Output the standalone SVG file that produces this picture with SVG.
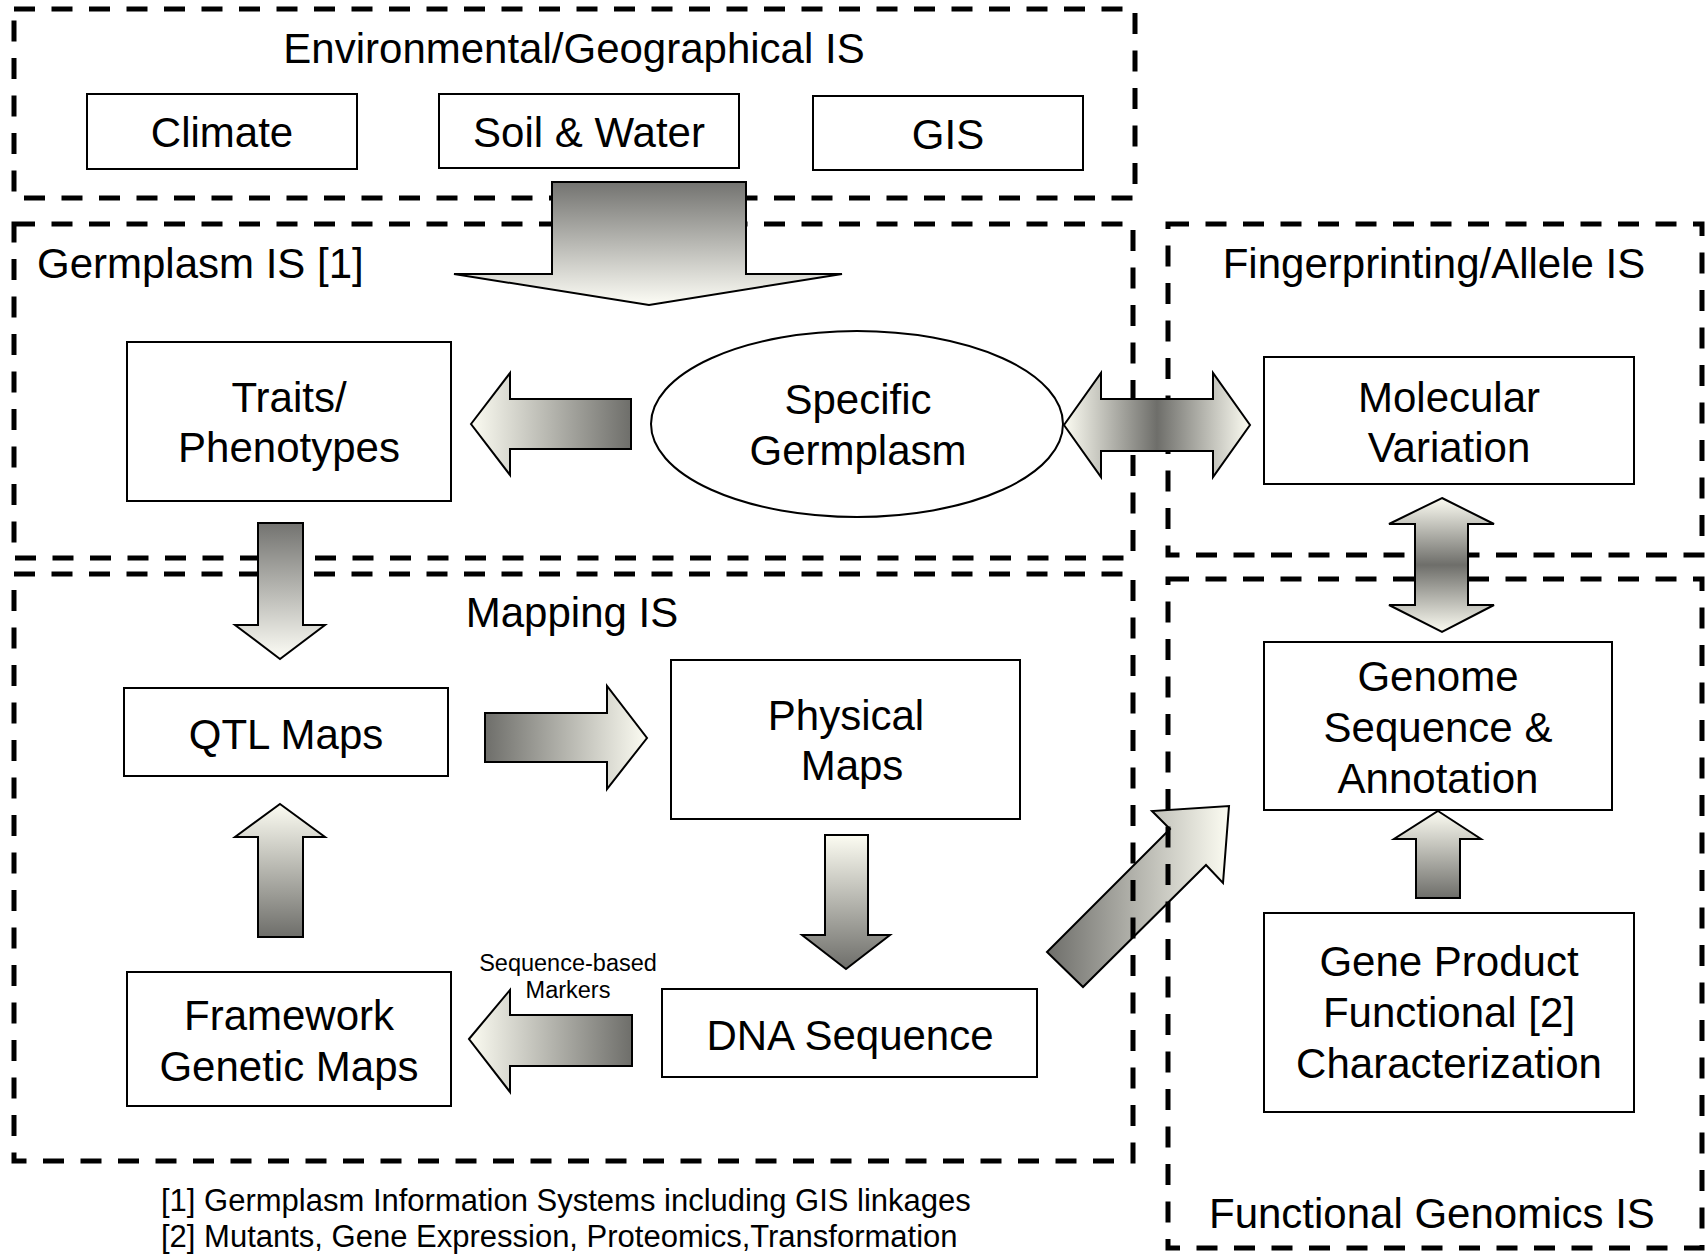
<svg xmlns="http://www.w3.org/2000/svg" width="1708" height="1255" viewBox="0 0 1708 1255">
  <style>
    text { font-family: "Liberation Sans", Arial, sans-serif; fill: #000; }
    .lbl { font-size: 42px; text-anchor: middle; }
    .title { font-size: 42px; }
    .note { font-size: 31px; }
    .small { font-size: 23.5px; text-anchor: middle; }
    .area { fill: none; stroke: #000; stroke-width: 5; stroke-dasharray: 21 16.5; }
    .box { fill: #fff; stroke: #000; stroke-width: 2; }
    .arrow { stroke: #000; stroke-width: 2; stroke-linejoin: miter; }
  </style>
  <defs>
    <linearGradient id="gTopDark" x1="0" y1="0" x2="0" y2="1">
      <stop offset="0" stop-color="#737370"/>
      <stop offset="1" stop-color="#fdfdf6"/>
    </linearGradient>
    <linearGradient id="gBottomDark" x1="0" y1="0" x2="0" y2="1">
      <stop offset="0" stop-color="#fcfcf2"/>
      <stop offset="1" stop-color="#6e6e6a"/>
    </linearGradient>
    <linearGradient id="gLeftDark" x1="0" y1="0" x2="1" y2="0">
      <stop offset="0" stop-color="#6e6e6a"/>
      <stop offset="1" stop-color="#fcfcf2"/>
    </linearGradient>
    <linearGradient id="gRightDark" x1="0" y1="0" x2="1" y2="0">
      <stop offset="0" stop-color="#fcfcf2"/>
      <stop offset="1" stop-color="#6e6e6a"/>
    </linearGradient>
    <linearGradient id="gMidH" x1="0" y1="0" x2="1" y2="0">
      <stop offset="0" stop-color="#fcfcf2"/>
      <stop offset="0.5" stop-color="#6e6e6a"/>
      <stop offset="1" stop-color="#fcfcf2"/>
    </linearGradient>
    <linearGradient id="gMidV" x1="0" y1="0" x2="0" y2="1">
      <stop offset="0" stop-color="#fcfcf2"/>
      <stop offset="0.5" stop-color="#6e6e6a"/>
      <stop offset="1" stop-color="#fcfcf2"/>
    </linearGradient>
  </defs>

  <rect x="0" y="0" width="1708" height="1255" fill="#fff"/>

  <!-- diagonal arrow sits beneath the dashed system outlines -->
  <g id="connectors-under">
    <path id="dna-to-genome" class="arrow" fill="url(#gLeftDark)" d="M1047,952 L1170,829 L1152,811 L1229,806 L1223,883 L1206,865 L1083,987 Z"/>
  </g>

  <!-- information-system areas -->
  <g id="area-environmental">
    <path class="area" d="M14,9 H1135 V198 H14 Z"/>
    <text class="title" x="574" y="63" text-anchor="middle">Environmental/Geographical IS</text>
  </g>
  <g id="area-germplasm">
    <path class="area" d="M14,224 H1133 V558 H14 Z"/>
    <text class="title" x="37" y="278">Germplasm IS [1]</text>
  </g>
  <g id="area-fingerprinting">
    <path class="area" d="M1168,224 H1702 V555 H1168 Z"/>
    <text class="title" x="1434" y="278" text-anchor="middle">Fingerprinting/Allele IS</text>
  </g>
  <g id="area-mapping">
    <path class="area" d="M14,574 H1133 V1161 H14 Z"/>
    <text class="title" x="572" y="627" text-anchor="middle">Mapping IS</text>
  </g>
  <g id="area-functional">
    <path class="area" d="M1168,579 H1702 V1248 H1168 Z"/>
    <text class="title" x="1209" y="1228">Functional Genomics IS</text>
  </g>

  <!-- nodes -->
  <g id="climate">
    <rect class="box" x="87" y="94" width="270" height="75"/>
    <text class="lbl" x="222" y="147">Climate</text>
  </g>
  <g id="soil-water">
    <rect class="box" x="439" y="94" width="300" height="74"/>
    <text class="lbl" x="589" y="147">Soil &amp; Water</text>
  </g>
  <g id="gis">
    <rect class="box" x="813" y="96" width="270" height="74"/>
    <text class="lbl" x="948" y="149">GIS</text>
  </g>
  <g id="traits">
    <rect class="box" x="127" y="342" width="324" height="159"/>
    <text class="lbl" x="289" y="412">Traits/</text>
    <text class="lbl" x="289" y="462">Phenotypes</text>
  </g>
  <g id="specific-germplasm">
    <ellipse class="box" cx="857" cy="424" rx="206" ry="93"/>
    <text class="lbl" x="858" y="414">Specific</text>
    <text class="lbl" x="858" y="465">Germplasm</text>
  </g>
  <g id="molecular-variation">
    <rect class="box" x="1264" y="357" width="370" height="127"/>
    <text class="lbl" x="1449" y="412">Molecular</text>
    <text class="lbl" x="1449" y="462">Variation</text>
  </g>
  <g id="qtl-maps">
    <rect class="box" x="124" y="688" width="324" height="88"/>
    <text class="lbl" x="286" y="749">QTL Maps</text>
  </g>
  <g id="physical-maps">
    <rect class="box" x="671" y="660" width="349" height="159"/>
    <text class="lbl" x="846" y="730">Physical</text>
    <text class="lbl" x="852" y="780">Maps</text>
  </g>
  <g id="framework-maps">
    <rect class="box" x="127" y="972" width="324" height="134"/>
    <text class="lbl" x="289" y="1030">Framework</text>
    <text class="lbl" x="289" y="1081">Genetic Maps</text>
  </g>
  <g id="dna-sequence">
    <rect class="box" x="662" y="989" width="375" height="88"/>
    <text class="lbl" x="850" y="1050">DNA Sequence</text>
  </g>
  <g id="genome-annotation">
    <rect class="box" x="1264" y="642" width="348" height="168"/>
    <text class="lbl" x="1438" y="691">Genome</text>
    <text class="lbl" x="1438" y="742">Sequence &amp;</text>
    <text class="lbl" x="1438" y="793">Annotation</text>
  </g>
  <g id="gene-product">
    <rect class="box" x="1264" y="913" width="370" height="199"/>
    <text class="lbl" x="1449" y="976">Gene Product</text>
    <text class="lbl" x="1449" y="1027">Functional [2]</text>
    <text class="lbl" x="1449" y="1078">Characterization</text>
  </g>

  <!-- block arrows -->
  <g id="connectors">
    <path id="env-to-germplasm" class="arrow" fill="url(#gTopDark)" d="M552,182 H746 V274 H842 L649,305 L454,274 H552 Z"/>
    <path id="germplasm-to-traits" class="arrow" fill="url(#gRightDark)" d="M471,424 L510,373 V399 H631 V449 H510 V475 Z"/>
    <path id="germplasm-molecular" class="arrow" fill="url(#gMidH)" d="M1064,425 L1101,373 V399 H1213 V373 L1250,425 L1213,477 V451 H1101 V477 Z"/>
    <path id="traits-to-qtl" class="arrow" fill="url(#gTopDark)" d="M258,523 H303 V625 H325 L280,659 L235,625 H258 Z"/>
    <path id="qtl-to-physical" class="arrow" fill="url(#gLeftDark)" d="M485,713 H607 V686 L647,738 L607,789 V762 H485 Z"/>
    <path id="physical-to-dna" class="arrow" fill="url(#gBottomDark)" d="M825,835 H868 V935 H890 L846,969 L802,935 H825 Z"/>
    <path id="framework-to-qtl" class="arrow" fill="url(#gBottomDark)" d="M280,804 L325,837 H303 V937 H258 V837 H235 Z"/>
    <path id="dna-to-framework" class="arrow" fill="url(#gRightDark)" d="M469,1039 L510,990 V1015 H632 V1066 H510 V1092 Z"/>
    <text class="small" x="568" y="971">Sequence-based</text>
    <text class="small" x="568" y="998">Markers</text>
    <path id="molecular-genome" class="arrow" fill="url(#gMidV)" d="M1442,498 L1494,524 H1468 V605 H1494 L1442,632 L1389,605 H1415 V524 H1389 Z"/>
    <path id="product-to-genome" class="arrow" fill="url(#gBottomDark)" d="M1438,811 L1481,839 H1460 V898 H1416 V839 H1394 Z"/>
  </g>

  <!-- footnotes -->
  <g id="notes">
    <text class="note" x="161" y="1211">[1] Germplasm Information Systems including GIS linkages</text>
    <text class="note" x="161" y="1247">[2] Mutants, Gene Expression, Proteomics,Transformation</text>
  </g>
</svg>
